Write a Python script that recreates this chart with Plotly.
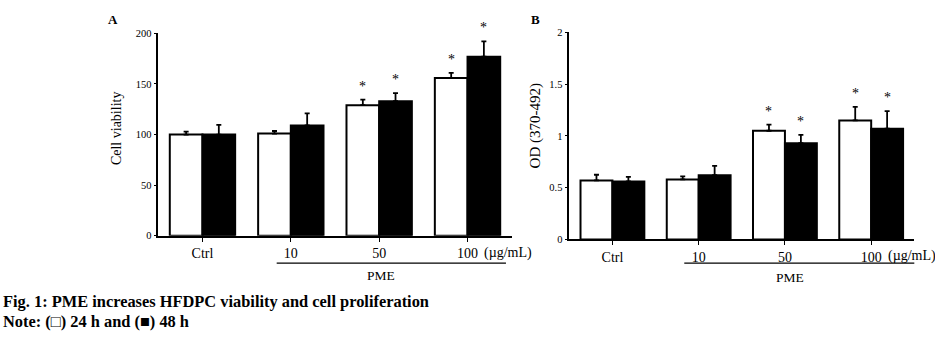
import plotly.graph_objects as go

# ---- data ----
groups = [0, 1, 2, 3]
tick_text = ["Ctrl", "10", "50", "100"]

a_24 = [100, 101, 129, 156]
a_24_err = [3, 2.5, 5.5, 5]
a_48 = [100, 109, 133, 177]
a_48_err = [9.5, 12, 8, 15]

b_24 = [0.57, 0.58, 1.05, 1.15]
b_24_err = [0.055, 0.03, 0.06, 0.13]
b_48 = [0.56, 0.62, 0.93, 1.07]
b_48_err = [0.045, 0.09, 0.08, 0.17]

sig_24 = [False, False, True, True]
sig_48 = [False, False, True, True]

FONT = "Liberation Serif, Times New Roman, serif"
W, H = 935, 340


def px_x(p):
    return p / W


def px_y(p):
    return 1 - p / H


fig = go.Figure()

def add_bars(vals24, err24, vals48, err48, xa, ya):
    fig.add_trace(go.Bar(
        x=groups, y=vals24, name="24 h", xaxis=xa, yaxis=ya,
        marker=dict(color="white", line=dict(color="black", width=2)),
        error_y=dict(type="data", array=err24, arrayminus=[0] * len(err24),
                     symmetric=False, color="black", thickness=1.8, width=2.5),
        showlegend=False,
    ))
    fig.add_trace(go.Bar(
        x=groups, y=vals48, name="48 h", xaxis=xa, yaxis=ya,
        marker=dict(color="black", line=dict(color="black", width=2)),
        error_y=dict(type="data", array=err48, arrayminus=[0] * len(err48),
                     symmetric=False, color="black", thickness=1.8, width=2.5),
        showlegend=False,
    ))

add_bars(a_24, a_24_err, a_48, a_48_err, "x", "y")
add_bars(b_24, b_24_err, b_48, b_48_err, "x2", "y2")

annotations = []
bw = 0.37

def add_stars(vals, errs, sig, shift, xref, yref):
    for i, (v, e, s) in enumerate(zip(vals, errs, sig)):
        if s:
            annotations.append(dict(
                x=groups[i] + shift, y=v + e, xref=xref, yref=yref,
                text="*", showarrow=False, yanchor="bottom", yshift=4,
                font=dict(family=FONT, size=14, color="black"),
            ))

add_stars(a_24, a_24_err, sig_24, -bw / 2, "x", "y")
add_stars(a_48, a_48_err, sig_48, bw / 2, "x", "y")
add_stars(b_24, b_24_err, sig_24, -bw / 2, "x2", "y2")
add_stars(b_48, b_48_err, sig_48, bw / 2, "x2", "y2")

axis_common = dict(showline=True, linecolor="black", linewidth=1.5,
                   showgrid=False, zeroline=False, ticks="outside",
                   tickwidth=1, tickcolor="black")

fig.update_layout(
    width=W, height=H,
    margin=dict(l=0, r=0, t=0, b=0),
    paper_bgcolor="white", plot_bgcolor="white",
    barmode="group", bargap=0.26, bargroupgap=0,
    font=dict(family=FONT, color="black"),
    xaxis=dict(domain=[px_x(158.3), px_x(511.7)], anchor="y",
               range=[-0.5, 3.5], tickvals=groups, ticktext=tick_text,
               tickfont=dict(size=14), ticklen=4, **axis_common),
    yaxis=dict(domain=[px_y(238.5), px_y(29.3)], anchor="x",
               range=[0, 200], tickvals=[0, 50, 100, 150, 200],
               tickfont=dict(size=10.5), ticklen=3, **axis_common),
    xaxis2=dict(domain=[px_x(569.3), px_x(914.3)], anchor="y2",
                range=[-0.5, 3.5], tickvals=groups, ticktext=tick_text,
                tickfont=dict(size=14), ticklen=4, **axis_common),
    yaxis2=dict(domain=[px_y(242.3), px_y(28.3)], anchor="x2",
                range=[0, 2], tickvals=[0, 0.5, 1, 1.5, 2],
                ticktext=["0", "0.5", "1", "1.5", "2"],
                tickfont=dict(size=10.5), ticklen=3, **axis_common),
)

mid = dict(showarrow=False, yanchor="middle")

annotations += [
    dict(x=px_x(116.7), y=px_y(127.5), xref="paper", yref="paper",
         text="Cell viability", textangle=-90, xanchor="center",
         font=dict(family=FONT, size=14), **mid),
    dict(x=px_x(535), y=px_y(125.5), xref="paper", yref="paper",
         text="OD (370-492)", textangle=-90, xanchor="center",
         font=dict(family=FONT, size=15), **mid),
    dict(x=px_x(112.5), y=px_y(15.5), xref="paper", yref="paper",
         text="<b>A</b>", xanchor="center", font=dict(family=FONT, size=13), **mid),
    dict(x=px_x(535), y=px_y(15.5), xref="paper", yref="paper",
         text="<b>B</b>", xanchor="center", font=dict(family=FONT, size=13), **mid),
    # units
    dict(x=3, y=px_y(256.5), xref="x", yref="paper", xanchor="left", xshift=14,
         text="(µg/mL)", font=dict(family=FONT, size=14), **mid),
    dict(x=3, y=px_y(259.5), xref="x2", yref="paper", xanchor="left", xshift=15,
         text="(µg/mL)", font=dict(family=FONT, size=14), **mid),
    # PME labels
    dict(x=2.015, y=px_y(279.5), xref="x", yref="paper", xanchor="center",
         text="PME", font=dict(family=FONT, size=13.5), **mid),
    dict(x=2.06, y=px_y(282), xref="x2", yref="paper", xanchor="center",
         text="PME", font=dict(family=FONT, size=13.5), **mid),
    # caption
    dict(x=px_x(1), y=px_y(306), xref="paper", yref="paper", xanchor="left",
         text="<b>Fig. 1: PME increases HFDPC viability and cell proliferation</b>",
         font=dict(family=FONT, size=16.4), **mid),
    dict(x=px_x(1), y=px_y(327.5), xref="paper", yref="paper", xanchor="left",
         text="<b>Note: (□) 24 h and (■) 48 h</b>",
         font=dict(family=FONT, size=16.4), **mid),
]

shapes = [
    dict(type="line", xref="x", yref="paper", x0=0.84, x1=3.435,
         y0=px_y(266.7), y1=px_y(266.7), line=dict(color="black", width=1.2)),
    dict(type="line", xref="x2", yref="paper", x0=0.833, x1=3.55,
         y0=px_y(266.7), y1=px_y(266.7), line=dict(color="black", width=1.2)),
]

fig.update_layout(annotations=annotations, shapes=shapes)
fig.write_html("out.html")
